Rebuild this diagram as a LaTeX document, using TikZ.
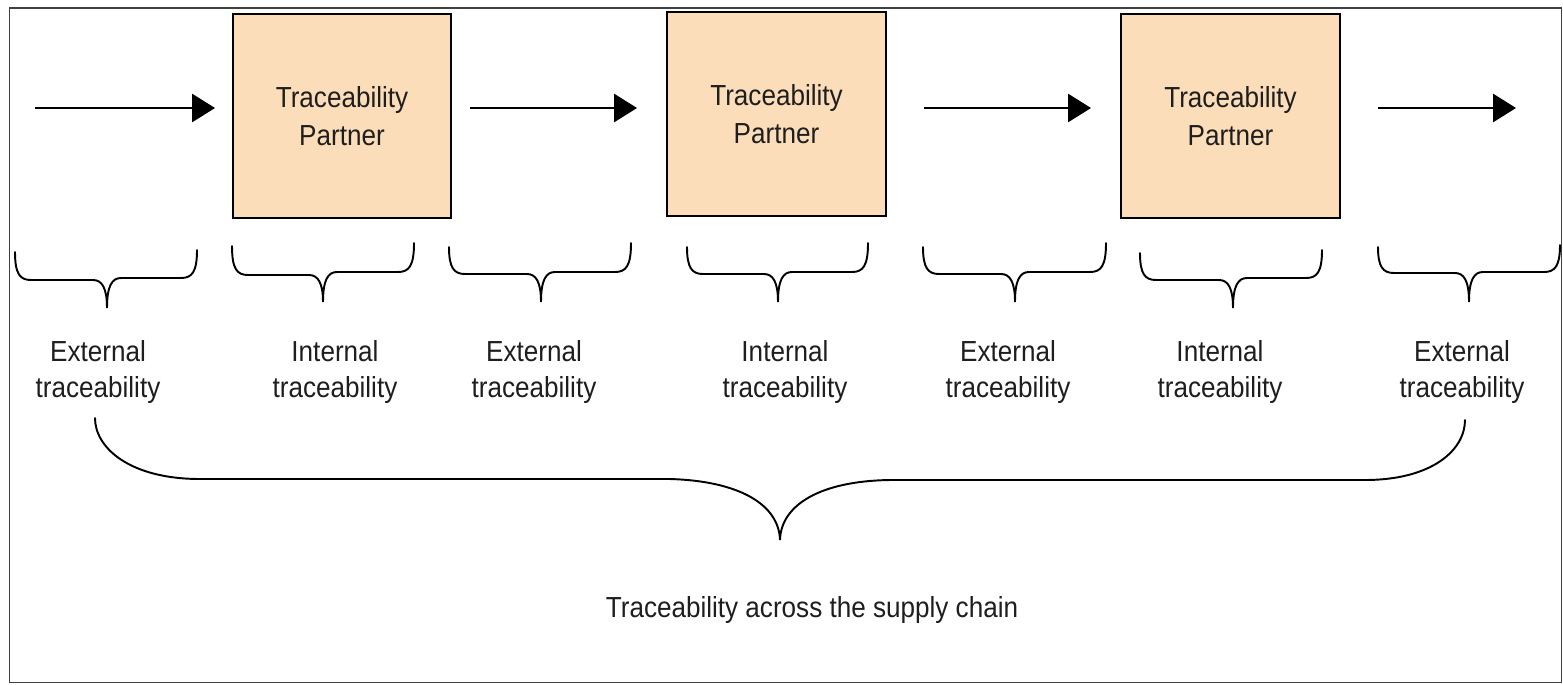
\documentclass[tikz,border=0pt]{standalone}
\usepackage{fontspec}
\setmainfont{Liberation Sans}[FakeStretch=0.9]
\usetikzlibrary{arrows.meta}
\definecolor{peach}{RGB}{252,221,186}
\definecolor{ink}{RGB}{30,30,30}
% #1 xl, #2 ytl, #3 yml, #4 xt, #5 yt, #6 ymr, #7 xr, #8 ytr
\newcommand\sbrace[8]{%
  \draw[brc] (#1,#2) .. controls (#1,#3-6) and (#1+5,#3) .. (#1+16,#3)
    -- (#4-14,#3) .. controls (#4-5,#3) and (#4,#3+8) .. (#4,#5)
    .. controls (#4,#6+8) and (#4+5,#6) .. (#4+14,#6)
    -- (#7-16,#6) .. controls (#7-5,#6) and (#7,#6-6) .. (#7,#8);}
\begin{document}
\begin{tikzpicture}[x=0.02cm,y=-0.02cm,
  partner/.style={draw=black, line width=1.3pt, fill=peach, minimum width=4.37cm,
    minimum height=4.08cm, align=center, inner sep=0pt,
    font=\fontsize{16.5}{21.5}\selectfont, text=ink},
  lbl/.style={align=center, inner sep=0pt, font=\fontsize{16.5}{20.8}\selectfont, text=ink},
  flow/.style={line width=1.1pt, -{Triangle[length=13pt,width=16pt]}},
  brc/.style={line width=1.1pt, line cap=round},
  frame/.style={draw=ink!85, line width=0.9pt}
]
\useasboundingbox (0,0) rectangle (1563,684);
\draw[frame] (9.5,8) rectangle (1561.5,682.5);

% partners
\node[partner] (b1) at (342,116) {Traceability\\Partner};
\node[partner] (b2) at (776.5,114) {Traceability\\Partner};
\node[partner] (b3) at (1230.5,116) {Traceability\\Partner};

% flow arrows
\coordinate (a1s) at (35,108);   \coordinate (a1e) at (215,108);
\coordinate (a2s) at (470,108);  \coordinate (a2e) at (637,108);
\coordinate (a3s) at (924,108);  \coordinate (a3e) at (1091,108);
\coordinate (a4s) at (1378,108); \coordinate (a4e) at (1516,108);
\draw[flow] (a1s) -- (a1e);
\draw[flow] (a2s) -- (a2e);
\draw[flow] (a3s) -- (a3e);
\draw[flow] (a4s) -- (a4e);

% small braces
\sbrace{15}{252}{280}{107}{308}{278}{197}{250}
\sbrace{232}{246}{275}{323}{302}{272}{414}{243}
\sbrace{449}{247}{274}{541}{302}{272}{631}{243}
\sbrace{687}{247}{274}{778}{302}{272}{868}{243}
\sbrace{923}{247}{274}{1015}{302}{272}{1106}{243}
\sbrace{1140}{253}{280}{1233}{308}{278}{1322}{250}
\sbrace{1378}{247}{273}{1469}{302}{272}{1560}{245}

% labels
\node[lbl] (l1) at (98,372) {External\\traceability};
\node[lbl] (l2) at (335,372) {Internal\\traceability};
\node[lbl] (l3) at (534,372) {External\\traceability};
\node[lbl] (l4) at (785,372) {Internal\\traceability};
\node[lbl] (l5) at (1008,372) {External\\traceability};
\node[lbl] (l6) at (1220,372) {Internal\\traceability};
\node[lbl] (l7) at (1462,372) {External\\traceability};

% big brace
\draw[brc] (95,418) .. controls (95,448) and (130,479) .. (200,479)
  -- (670,479) .. controls (740,481) and (779,505) .. (780,540)
  .. controls (781,505) and (820,481) .. (890,480)
  -- (1365,480) .. controls (1432,480) and (1465,450) .. (1465,420);

\node[lbl] (total) at (812,610) {Traceability across the supply chain};
\end{tikzpicture}
\end{document}
